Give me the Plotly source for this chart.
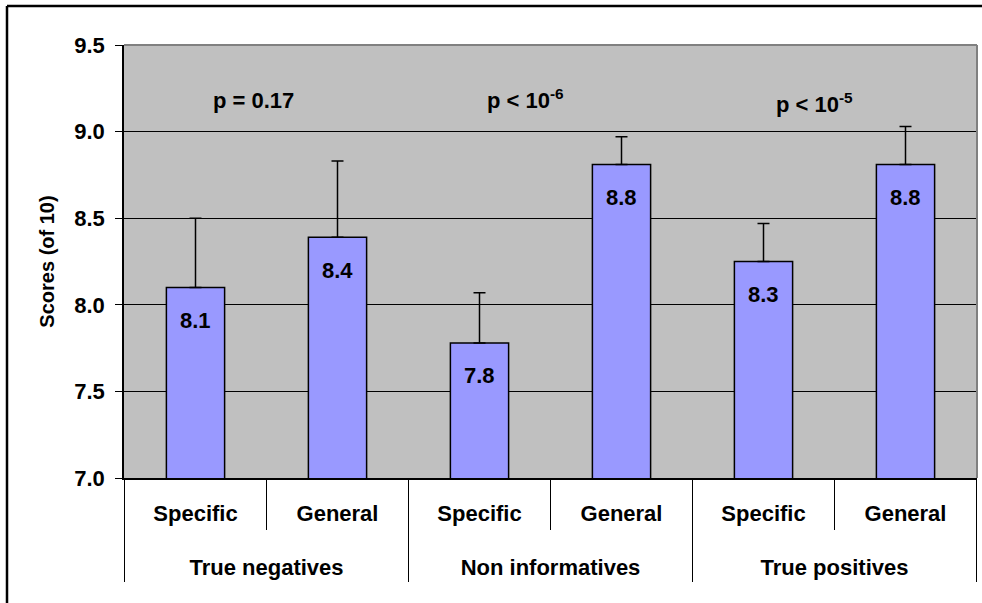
import plotly.graph_objects as go

groups = ["True negatives", "True negatives", "Non informatives", "Non informatives",
          "True positives", "True positives"]
kinds = ["Specific", "General", "Specific", "General", "Specific", "General"]
scores = [8.10, 8.39, 7.78, 8.81, 8.25, 8.81]
errors = [0.40, 0.44, 0.29, 0.16, 0.22, 0.22]
value_labels = ["8.1", "8.4", "7.8", "8.8", "8.3", "8.8"]
p_texts = ["p = 0.17", "p < 10<sup>-6</sup>", "p < 10<sup>-5</sup>"]
y_ticks = [7.0, 7.5, 8.0, 8.5, 9.0, 9.5]

FONT = "Liberation Sans, Arial, sans-serif"
W, H = 982, 603
ML, MR, MT, MB = 124, 5, 45, 125
PH = H - MT - MB
PW = W - ML - MR

# labels drawn at 22px inside a larger base line height, sub-labels padded with an
# empty line, so the group row sits lower under the sub-labels
span = "<span style='font-size:22px'>{}</span>"
groups_lbl = [span.format(g) for g in groups]
kinds_lbl = [span.format(k) + "<br>\u00a0" for k in kinds]

fig = go.Figure()
fig.add_trace(go.Bar(
    x=[groups_lbl, kinds_lbl], y=scores, width=0.41,
    marker=dict(color="#9999FF", line=dict(color="black", width=1.5)),
    error_y=dict(type="data", array=errors, symmetric=False, arrayminus=[0] * 6,
                 color="black", thickness=1.5, width=6),
    showlegend=False, hoverinfo="skip",
))

annotations = []
for i, t in enumerate(value_labels):
    annotations.append(dict(x=i, y=scores[i], xref="x", yref="y", text=t, showarrow=False,
                            yshift=-33, font=dict(family=FONT, size=22, color="black", weight="bold")))

p_pos = [(0.5, 9.18, -13), (2.5, 9.19, -25), (4.5, 9.165, -20)]
for (xc, yv, xs), t in zip(p_pos, p_texts):
    annotations.append(dict(x=xc, y=yv, xref="x", yref="y", text=t, showarrow=False, xshift=xs,
                            font=dict(family=FONT, size=22, color="black", weight="bold")))

shapes = []
def py(px_below):
    return -px_below / PH
for xd in [-0.5, 1.5, 3.5, 5.5]:
    shapes.append(dict(type="line", xref="x", yref="paper", x0=xd, x1=xd, y0=0, y1=py(104),
                       line=dict(color="black", width=1)))
for xd in [0.5, 2.5, 4.5]:
    shapes.append(dict(type="line", xref="x", yref="paper", x0=xd, x1=xd, y0=0, y1=py(52),
                       line=dict(color="black", width=1)))
shapes.append(dict(type="line", xref="paper", yref="paper", x0=0, x1=1, y0=1, y1=1,
                   line=dict(color="#808080", width=2)))
shapes.append(dict(type="line", xref="paper", yref="paper", x0=1, x1=1, y0=0, y1=1,
                   line=dict(color="#808080", width=2)))
fx = (7 - ML) / PW
fy = 1 + (MT - 6) / PH
shapes.append(dict(type="line", xref="paper", yref="paper", x0=fx, x1=1.2, y0=fy, y1=fy,
                   line=dict(color="black", width=2.5)))
shapes.append(dict(type="line", xref="paper", yref="paper", x0=fx, x1=fx, y0=fy, y1=-0.4,
                   line=dict(color="black", width=2.5)))

fig.update_layout(
    width=W, height=H,
    margin=dict(l=ML, r=MR, t=MT, b=MB),
    paper_bgcolor="white", plot_bgcolor="#C0C0C0",
    font=dict(family=FONT, color="black"),
    annotations=annotations, shapes=shapes,
    xaxis=dict(type="multicategory", showdividers=False, showgrid=False,
               showline=True, linecolor="black", linewidth=1.5, ticks="",
               ticklabelstandoff=9,
               tickfont=dict(family=FONT, size=27, color="black", weight="bold")),
    yaxis=dict(range=[7.0, 9.5], tickvals=y_ticks,
               ticktext=[f"{v:.1f}\u00a0" for v in y_ticks],
               showgrid=True, gridcolor="black", gridwidth=1, zeroline=False,
               showline=True, linecolor="black", linewidth=1.5,
               ticks="outside", ticklen=7, tickcolor="black", tickwidth=1,
               tickfont=dict(family=FONT, size=22, color="black", weight="bold"),
               title=dict(text="Scores (of 10)", standoff=14,
                          font=dict(family=FONT, size=20, color="black", weight="bold"))),
)

fig.write_html("out.html", post_script="document.body.style.margin='0';",
               config={"displayModeBar": False})
